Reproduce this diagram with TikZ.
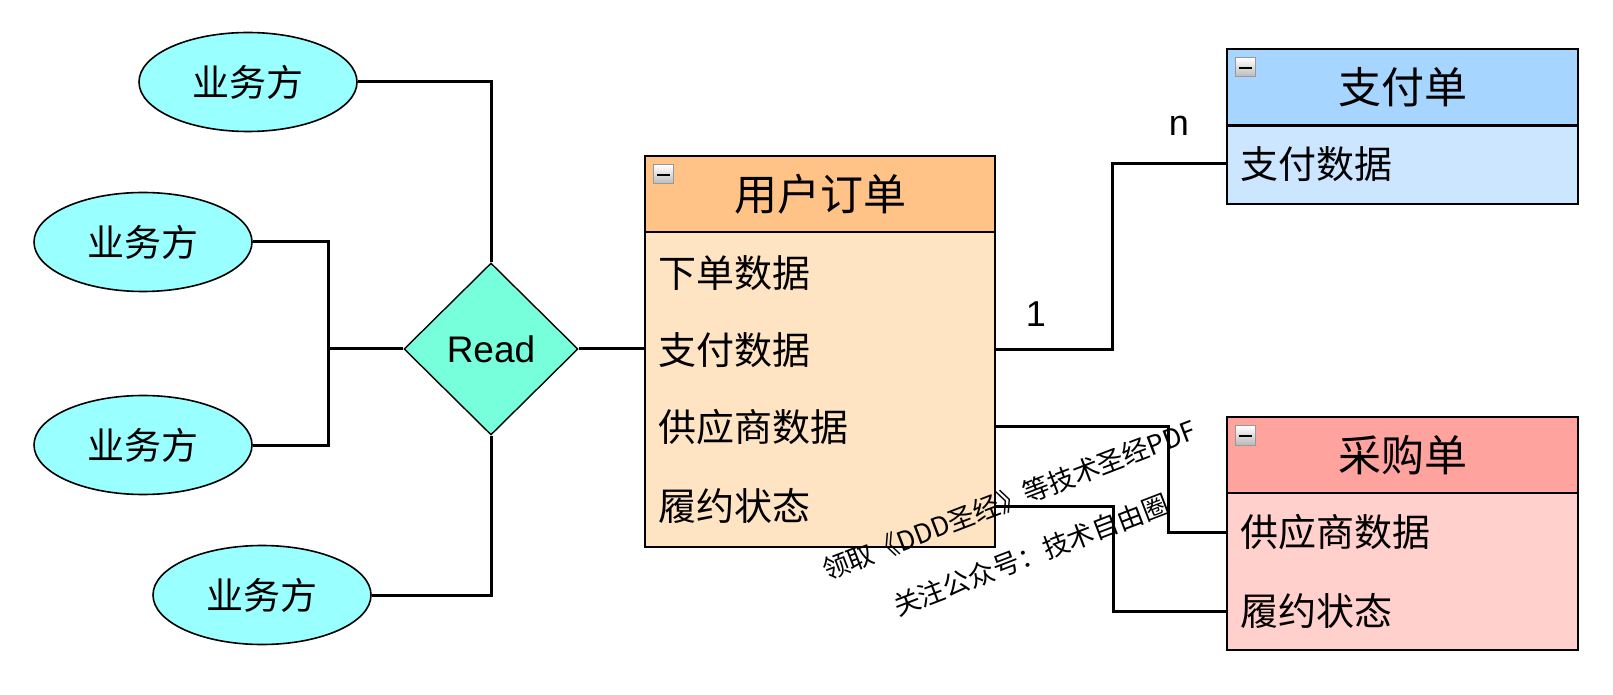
\documentclass[tikz,border=0pt]{standalone}
\usepackage{fontspec}
\setmainfont{Liberation Sans}
\newfontfamily\cjk{Noto Sans CJK SC}
\usepackage{xcolor}
\usetikzlibrary{shapes.geometric,positioning}

\definecolor{partycyan}{RGB}{153,255,255}
\definecolor{readgreen}{RGB}{118,255,218}
\definecolor{orderhead}{RGB}{255,195,135}
\definecolor{orderbody}{RGB}{255,228,196}
\definecolor{payhead}{RGB}{166,213,255}
\definecolor{paybody}{RGB}{204,230,255}
\definecolor{buyhead}{RGB}{255,163,158}
\definecolor{buybody}{RGB}{255,208,204}

\begin{document}
\begin{tikzpicture}[x=0.5pt, y=-0.5pt,
    party/.style = {ellipse, draw, line width=0.8pt, fill=partycyan, minimum width=109pt, minimum height=49.5pt, inner sep=0pt, font=\cjk\fontsize{18.5}{18.5}\selectfont},
    relation/.style = {diamond, draw, line width=0.7pt, fill=readgreen, minimum width=87pt, minimum height=86pt, inner sep=0pt, font=\fontsize{18.5}{18.5}\selectfont},
    head box/.style = {draw, line width=1pt, anchor=north west, minimum width=175pt, minimum height=38pt, inner sep=0pt, font=\cjk\fontsize{21.5}{21.5}\selectfont},
    body box/.style = {draw, line width=1pt, anchor=north west, minimum width=175pt, inner sep=0pt},
    field/.style = {anchor=west, inner sep=0pt, font=\cjk\fontsize{19}{19}\selectfont},
    link/.style = {line width=1.5pt},
    card/.style = {font=\fontsize{18}{18}\selectfont},
    watermark/.style = {font=\cjk\fontsize{13.3}{13.3}\selectfont, rotate=21}
]

\useasboundingbox (0,0) rectangle (1613,695);

% Icono de minimizar: \minusicon{nodo}
\def\minusicon#1{
    \shade[top color=white, bottom color=gray!55, draw=gray!80, line width=0.5pt] ([shift={(9,10)}]#1.north west) rectangle ++(20,19);
    \draw[line width=1pt] ([shift={(13,20)}]#1.north west) -- ++(13,0);
}

% --- PARTES ---
\node[party] (p1) at (248,82) {业务方};
\node[party] (p2) at (143,242) {业务方};
\node[party] (p3) at (143,445) {业务方};
\node[party] (p4) at (262,595) {业务方};

% --- RELACION ---
\node[relation] (rd) at (491,349) {Read};

% --- ENTIDADES ---
% 用户订单
\node[head box, fill=orderhead] (oh) at (644,155) {用户订单};
\node[body box, fill=orderbody, minimum height=157.5pt] (ob) at (644,231) {};
\minusicon{oh}
\node[field] (o1) at (658,273) {下单数据};
\node[field] (o2) at (658,350) {支付数据};
\node[field] (o3) at (658,427) {供应商数据};
\node[field] (o4) at (658,506) {履约状态};

% 支付单
\node[head box, fill=payhead, minimum width=175.5pt] (ph) at (1226,48) {支付单};
\node[body box, fill=paybody, minimum width=175.5pt, minimum height=39pt] (pb) at (1226,125) {};
\minusicon{ph}
\node[field] (q1) at (1240,164) {支付数据};

% 采购单
\node[head box, fill=buyhead, minimum width=175.5pt] (bh) at (1226,416) {采购单};
\node[body box, fill=buybody, minimum width=175.5pt, minimum height=78.5pt] (bb) at (1226,492) {};
\minusicon{bh}
\node[field] (b1) at (1240,532) {供应商数据};
\node[field] (b2) at (1240,611) {履约状态};

% --- CONEXIONES ---
\coordinate (jn) at (328,349);
\draw[link] (p1.east) -| (rd.north);
\draw[link] (p4.east) -| (rd.south);
\draw[link] (p2.east) -| (jn) -- (rd.west);
\draw[link] (p3.east) -| (jn);
\draw[link] (rd.east) -- (rd.east -| ob.west);

\draw[link] (o2 -| ob.east) -- ++(116,0) |- (q1 -| pb.west);
\draw[link] (o3 -| ob.east) -- ++(172,0) |- (b1 -| bb.west);
\draw[link] (o4 -| ob.east) -- ++(117,0) |- (b2 -| bb.west);

\node[card] (one) at (1036,314) {1};
\node[card] (many) at (1179,126) {n};

% --- MARCA DE AGUA ---
\node[watermark] (wm1) at (1009,500) {领取《DDD圣经》等技术圣经PDF};
\node[watermark] (wm2) at (1031,555) {关注公众号：技术自由圈};

\end{tikzpicture}
\end{document}
